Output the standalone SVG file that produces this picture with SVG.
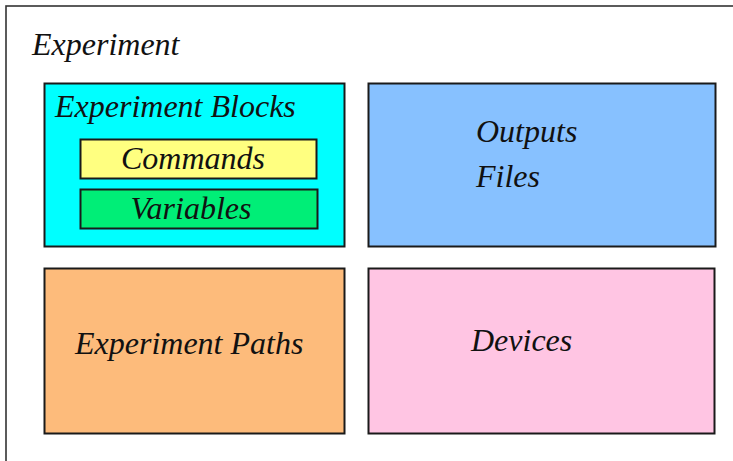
<svg xmlns="http://www.w3.org/2000/svg" width="733" height="461" viewBox="0 0 733 461">
<style>
.b{stroke:#1a1a1a;stroke-width:2}
.frame{fill:#fff;stroke:#333;stroke-width:1.6}
text{font-family:"Liberation Serif","Times New Roman",serif;font-style:italic;fill:#111}
.t{font-size:32px}
</style>
<g id="experiment">
<rect class="frame" x="6" y="6" width="800" height="500"/>
<text class="t" x="32" y="55">Experiment</text>
</g>
<g id="blocks">
<rect class="b" x="44.5" y="83.5" width="300" height="163" fill="#00FFFF"/>
<text class="t" x="55" y="117">Experiment Blocks</text>
</g>
<g id="commands">
<rect class="b" x="80.5" y="139.5" width="236" height="39" fill="#FFFF80"/>
<text class="t" x="193" y="169" text-anchor="middle">Commands</text>
</g>
<g id="variables">
<rect class="b" x="80.5" y="189.5" width="237" height="39" fill="#00EE77"/>
<text class="t" x="191" y="219" text-anchor="middle">Variables</text>
</g>
<g id="outputs">
<rect class="b" x="368.5" y="83.5" width="347" height="163" fill="#87C1FF"/>
<text class="t" x="476" y="142">Outputs</text>
<text class="t" x="476" y="187">Files</text>
</g>
<g id="paths">
<rect class="b" x="44.5" y="268.5" width="300" height="165" fill="#FDBB7B"/>
<text class="t" x="75" y="354">Experiment Paths</text>
</g>
<g id="devices">
<rect class="b" x="368.5" y="268.5" width="346" height="165" fill="#FFC5E3"/>
<text class="t" x="471" y="351">Devices</text>
</g>
<g id="connectors"></g>
</svg>
